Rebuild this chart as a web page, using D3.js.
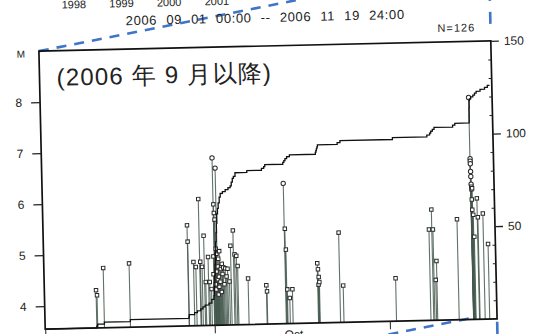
<!DOCTYPE html>
<html>
<head>
<meta charset="utf-8">
<script src="https://cdn.jsdelivr.net/npm/d3@7"></script>
<style>
  html, body { margin: 0; padding: 0; background: #fff; overflow: hidden; }
  svg { display: block; }
  text { font-family: "Liberation Sans", Arial, sans-serif; fill: #222; }
</style>
</head>
<body>
<svg id="chart" width="542" height="334"></svg>
<script>
// Events: elapsed days since 2006-09-01 00:00 and magnitude M
const eventDays = [
  9.15, 9.3, 10.5, 15.1,
  25.5, 25.55, 26.5, 26.9, 27.6, 27.7, 28.0, 28.4, 28.6, 29.1, 29.3, 29.6,
  30.0, 30.05, 30.2, 30.25, 30.3, 30.35, 30.4, 30.45, 30.5, 30.55, 30.6, 30.7,
  30.75, 30.8, 30.85, 30.9, 30.95, 31.0, 31.1, 31.2, 31.3, 31.4, 31.5, 31.6,
  31.75, 31.9, 32.1, 32.3, 32.5, 32.8,
  33.1, 33.6, 33.8, 34.1, 34.3, 36.1, 39.3, 39.4,
  42.7, 42.8, 42.9, 43.0, 43.4, 43.9,
  48.4, 48.5, 48.55, 48.6, 48.7, 52.3, 52.9, 62.2,
  68.3, 68.8, 69.0, 69.3, 69.5, 73.3,
  75.84, 75.86, 75.87, 75.88, 75.9, 75.92, 75.94, 75.96, 75.98, 76.0, 76.05, 76.1, 76.2, 76.3,
  76.9, 77.0, 77.9, 78.7
];
const eventMags = [
  4.29, 4.19, 4.72, 4.80,
  5.52, 5.20, 4.80, 4.70, 6.03, 4.80, 4.70, 5.31, 4.40, 4.89, 4.40, 4.26,
  4.55, 4.90, 6.83, 5.92, 5.75, 4.35, 5.62, 4.25, 5.05, 4.60, 4.95, 6.63,
  4.45, 4.70, 4.15, 4.85, 4.50, 4.30, 5.00, 4.40, 4.65, 4.20, 4.75, 4.55,
  4.68, 4.35, 4.66, 4.50, 4.65, 4.40,
  5.10, 5.40, 4.93, 4.90, 4.70, 4.45, 4.31, 4.19,
  6.30, 5.41, 5.00, 4.22, 4.05, 4.22,
  4.72, 4.60, 4.30, 4.45, 4.35, 5.31, 4.27, 4.39,
  5.33, 5.72, 5.33, 4.34, 4.71, 5.52,
  7.90, 6.70, 6.65, 6.60, 6.45, 6.35, 6.20, 6.15, 6.10, 5.90, 5.70, 6.12, 5.60, 5.17,
  5.92, 5.55, 5.62, 5.02
];

// Cumulative number of events (right axis): step vertices
const cumDays = [
  0, 9.15, 9.3, 10.5, 15.1, 25.5, 25.55, 26.5, 27.0, 27.6, 28.0, 28.4, 29.1, 29.6,
  30.0, 30.1, 30.2, 30.3, 30.4, 30.5, 30.6, 30.7, 30.8, 30.95, 31.1, 31.3, 31.5,
  31.9, 32.4, 32.9, 33.3, 33.5, 33.7, 33.9, 34.2, 36.3, 38.9, 39.3, 39.5,
  42.7, 42.9, 43.1, 43.4, 43.9, 48.5, 48.6, 48.7, 48.8, 48.9, 52.4, 52.9, 62.2,
  68.3, 68.8, 69.0, 69.3, 69.6, 72.9, 73.3,
  75.84, 75.86, 75.88, 75.92, 75.98, 76.2, 76.6, 76.9, 77.2, 77.9, 78.7, 79.2, 79.6
];
const cumCounts = [
  0, 1, 2, 3, 4, 5, 6, 7, 8, 9, 10, 11, 12, 14,
  16, 21, 27, 33, 39, 45, 50, 55, 60, 63, 66, 69, 71,
  72, 73, 74, 75, 77, 79, 80, 82, 83, 84, 85, 86,
  87, 88, 89, 90, 91, 92, 93, 94, 95, 96, 97, 98, 99,
  100, 101, 102, 103, 104, 105, 106,
  107, 110, 114, 118, 119, 120, 121, 122, 123, 124, 125, 126, 126
];

const magTicks = [4, 5, 6, 7, 8];
const countMajorTicks = [50, 100, 150];
const countMinorTicks = [10, 20, 30, 40, 60, 70, 80, 90, 110, 120, 130, 140];
const monthLabels = [["2006-09-15", "Sep"], ["2006-10-15", "Oct"]];
const yearLabels = [1998, 1999, 2000, 2001];
const periodText = "2006 09 01 00:00 -- 2006 11 19 24:00";
const countText = "N=126";
const titleText = "(2006 年 9 月以降)";

const parse = d3.timeParse("%Y-%m-%d");
const start = parse("2006-09-01");
const end = parse("2006-11-20");
const toDate = d => new Date(start.getTime() + d * 864e5);

const plotL = 42, plotR = 494, plotT = 46, plotB = 324;

const x = d3.scaleTime().domain([start, end]).range([plotL, plotR]);
const yM = d3.scaleLinear().domain([3.55, 9.0]).range([plotB, plotT]);
const yN = d3.scaleLinear().domain([0, 150]).range([plotB, plotT]);
const xYear = d3.scaleLinear().domain([1998, 2001]).range([78, 221]);

const svg = d3.select("#chart");
svg.append("rect").attr("width", 542).attr("height", 334).attr("fill", "#fff");

// the sheet sits slightly askew
const g = svg.append("g").attr("transform", "rotate(-1.3, 267, 185)");

// remains of the panel above
g.append("g").selectAll("text").data(yearLabels).join("text")
  .attr("x", d => xYear(d)).attr("y", 4)
  .attr("text-anchor", "middle").attr("font-size", 11)
  .text(d => d);

// blue zoom guides
const guide = g.append("g").attr("stroke", "#3f74c6").attr("stroke-width", 2.6)
  .attr("fill", "none").attr("stroke-dasharray", "10,8");
guide.append("line").attr("x1", plotL).attr("y1", plotT).attr("x2", 300).attr("y2", 1);
guide.append("line").attr("x1", plotR).attr("y1", -6).attr("x2", plotR).attr("y2", 40)
  .attr("stroke-dasharray", "12,11");
guide.append("line").attr("x1", x(toDate(75))).attr("y1", plotB - 1)
  .attr("x2", x(toDate(58))).attr("y2", plotB + 16);
guide.append("line").attr("x1", plotR).attr("y1", plotB + 3).attr("x2", plotR).attr("y2", plotB + 20)
  .attr("stroke-dasharray", "none");

// header texts
g.append("text").attr("x", 269).attr("y", 22).attr("text-anchor", "middle")
  .attr("font-size", 13).attr("letter-spacing", 0.6).attr("word-spacing", 5)
  .text(periodText);
g.append("text").attr("x", 441).attr("y", 36).attr("font-size", 11)
  .attr("letter-spacing", 1).text(countText);

// stems, one per event
const quakes = eventDays.map((d, i) => ({ t: toDate(d), m: eventMags[i] }));
g.append("g").attr("stroke", "#45594f").attr("stroke-width", 1.1).attr("stroke-opacity", 0.85)
  .selectAll("line").data(quakes).join("line")
  .attr("x1", d => x(d.t)).attr("x2", d => x(d.t))
  .attr("y1", yM(3.55)).attr("y2", d => yM(d.m));

// markers at stem tops
const marks = g.append("g").attr("fill", "#fff").attr("stroke", "#2a2a2a").attr("stroke-width", 1);
marks.selectAll("path").data(quakes).join("path")
  .attr("transform", d => `translate(${x(d.t)},${yM(d.m)})`)
  .attr("d", d => d3.symbol().type(d.m >= 6.2 ? d3.symbolCircle : d3.symbolSquare)
    .size(d.m >= 6.2 ? 15 : 12)());

// cumulative count
const cum = cumDays.map((d, i) => ({ t: toDate(d), n: cumCounts[i] }));
g.append("path").datum(cum)
  .attr("fill", "none").attr("stroke", "#111").attr("stroke-width", 1.3)
  .attr("d", d3.line().x(d => x(d.t)).y(d => yN(d.n)).curve(d3.curveStepAfter));

// frame
g.append("rect").attr("x", plotL).attr("y", plotT).attr("width", plotR - plotL).attr("height", plotB - plotT)
  .attr("fill", "none").attr("stroke", "#111").attr("stroke-width", 1.7);

// left magnitude axis
const axL = g.append("g").attr("transform", `translate(${plotL},0)`)
  .call(d3.axisLeft(yM).tickValues(magTicks).tickSize(9).tickPadding(9).tickFormat(d3.format("d")));
axL.select(".domain").remove();
axL.selectAll("line").attr("stroke", "#222").attr("stroke-width", 1.3);
axL.selectAll("text").attr("font-size", 12).attr("font-family", "Liberation Sans, Arial, sans-serif").attr("fill", "#222");
g.append("text").attr("x", 24).attr("y", 52).attr("text-anchor", "middle").attr("font-size", 10).text("M");

// right count axis
const axR = g.append("g").attr("transform", `translate(${plotR},0)`)
  .call(d3.axisRight(yN).tickValues(countMajorTicks).tickSize(8).tickPadding(5));
axR.select(".domain").remove();
axR.selectAll("line").attr("stroke", "#222").attr("stroke-width", 1.3);
axR.selectAll("text").attr("font-size", 12).attr("font-family", "Liberation Sans, Arial, sans-serif").attr("fill", "#222");
g.append("g").attr("transform", `translate(${plotR},0)`)
  .call(d3.axisLeft(yN).tickValues(countMinorTicks).tickSize(3).tickFormat(""))
  .call(a => a.select(".domain").remove())
  .selectAll("line").attr("stroke", "#222");

// bottom time axis
const axB = g.append("g").attr("transform", `translate(0,${plotB})`)
  .call(d3.axisBottom(x).ticks(d3.timeMonth.every(1)).tickSize(8).tickFormat(""));
axB.select(".domain").remove();
axB.selectAll("line").attr("stroke", "#222");
g.append("g").selectAll("text").data(monthLabels).join("text")
  .attr("x", d => x(parse(d[0]))).attr("y", plotB + 15)
  .attr("text-anchor", "middle").attr("font-size", 12).text(d => d[1]);

// panel title
g.append("text").attr("x", 59).attr("y", 81)
  .attr("font-family", "'Noto Sans CJK JP', sans-serif").attr("font-size", 24)
  .attr("font-weight", 300).attr("letter-spacing", 1.2)
  .text(titleText);
</script>
</body>
</html>
